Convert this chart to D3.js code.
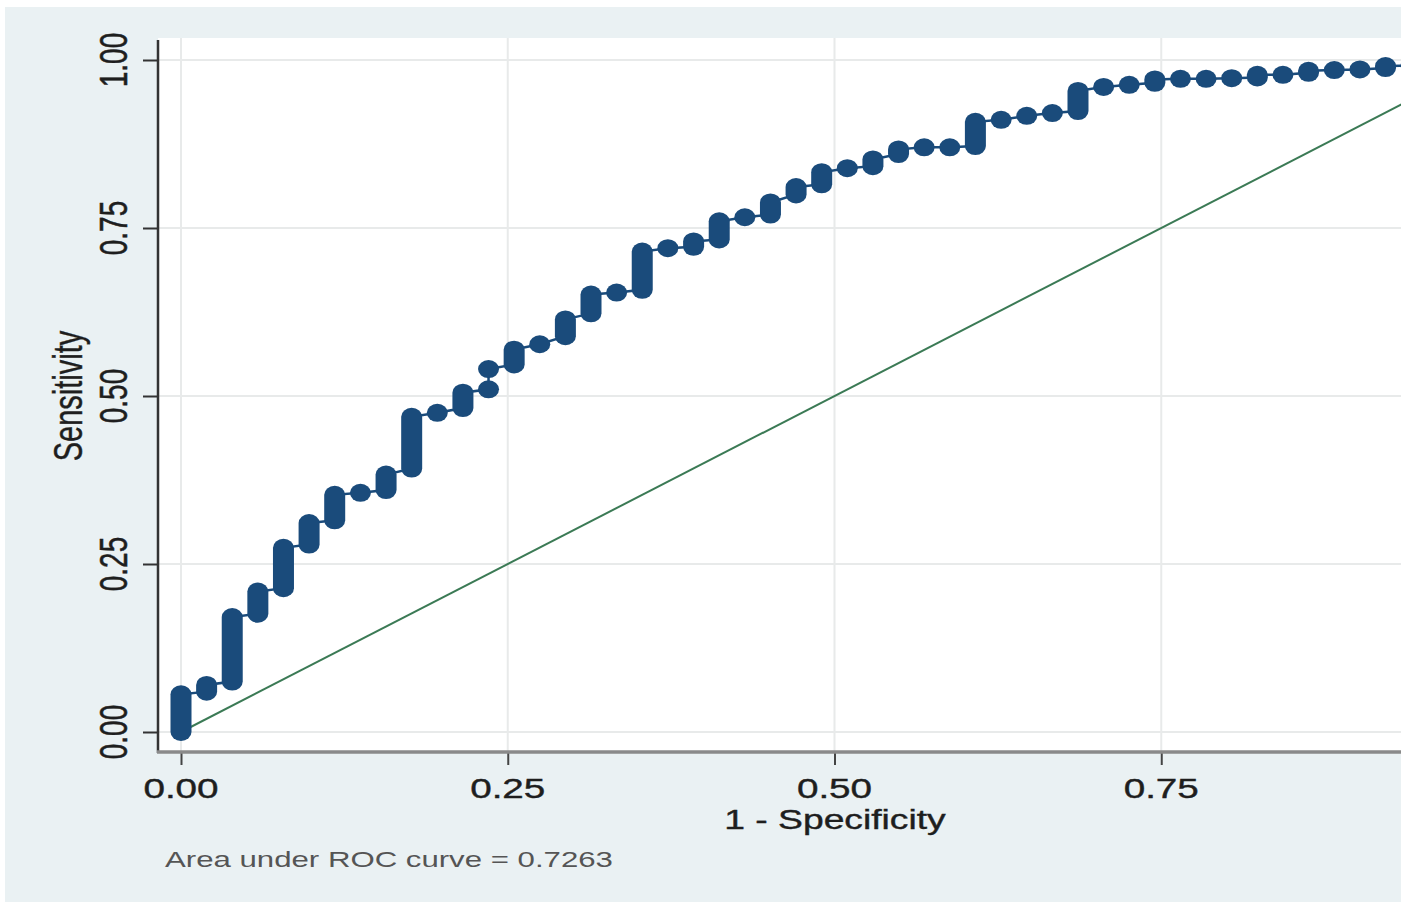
<!DOCTYPE html>
<html>
<head>
<meta charset="utf-8">
<script src="https://cdn.jsdelivr.net/npm/d3@7"></script>
<style>
  html, body { margin: 0; padding: 0; background: #ffffff; }
  svg { display: block; }
  text { font-family: "Liberation Sans", Arial, sans-serif; }
</style>
</head>
<body>
<svg id="chart" width="1401" height="902"></svg>
<script>
// --- ROC points (1 - specificity, sensitivity range at that x) ---
var fpr = [0.0000, 0.0196, 0.0392, 0.0588, 0.0784, 0.0980, 0.1176, 0.1373, 0.1569, 0.1765,
           0.1961, 0.2157, 0.2353, 0.2353, 0.2549, 0.2745, 0.2941, 0.3137, 0.3333, 0.3529,
           0.3725, 0.3922, 0.4118, 0.4314, 0.4510, 0.4706, 0.4902, 0.5098, 0.5294, 0.5490,
           0.5686, 0.5882, 0.6078, 0.6275, 0.6471, 0.6667, 0.6863, 0.7059, 0.7255, 0.7451,
           0.7647, 0.7843, 0.8039, 0.8235, 0.8431, 0.8627, 0.8824, 0.9020, 0.9216, 0.9412,
           0.9608, 0.9804, 1.0000];
var sensLo = [0.000, 0.060, 0.075, 0.176, 0.214, 0.279, 0.315, 0.356, 0.360, 0.392,
              0.475, 0.482, 0.510, 0.540, 0.547, 0.577, 0.589, 0.623, 0.654, 0.658,
              0.720, 0.722, 0.733, 0.766, 0.770, 0.800, 0.815, 0.839, 0.842, 0.860,
              0.870, 0.870, 0.872, 0.911, 0.917, 0.921, 0.924, 0.960, 0.963, 0.966,
              0.972, 0.972, 0.973, 0.974, 0.978, 0.981, 0.985, 0.986, 0.988, 0.992,
              0.995, 0.998, 1.000];
var sensHi = [0.056, 0.070, 0.171, 0.209, 0.274, 0.311, 0.353, 0.356, 0.383, 0.469,
              0.475, 0.505, 0.510, 0.540, 0.569, 0.577, 0.614, 0.651, 0.654, 0.715,
              0.720, 0.730, 0.760, 0.766, 0.788, 0.811, 0.833, 0.839, 0.852, 0.867,
              0.870, 0.870, 0.908, 0.911, 0.917, 0.921, 0.954, 0.960, 0.963, 0.971,
              0.972, 0.972, 0.973, 0.978, 0.978, 0.984, 0.985, 0.986, 0.991, 0.992,
              0.995, 0.998, 1.000];

var xTicks = [0, 0.25, 0.5, 0.75];
var yTicks = [0, 0.25, 0.5, 0.75, 1];
var xTitle = '1 - Specificity';
var yTitle = 'Sensitivity';
var note   = 'Area under ROC curve = 0.7263';

// --- look ---
var BG        = '#eaf1f3';
var NAVY      = '#1a4b7b';
var GREEN     = '#3b7a55';
var STRETCH   = 1.38;   // the picture is wider than tall, text is stretched too
var RX = 10.5, RY = 9;

var svg = d3.select('#chart');

var x = d3.scaleLinear().domain([0, 1]).range([181, 1488]);
var y = d3.scaleLinear().domain([0, 1]).range([732, 60]);

// backgrounds
svg.append('rect').attr('width', 1401).attr('height', 902).attr('fill', '#ffffff');
svg.append('rect').attr('x', 5).attr('y', 7).attr('width', 1396).attr('height', 895).attr('fill', BG);
svg.append('rect').attr('x', 158).attr('y', 38).attr('width', 1243).attr('height', 714).attr('fill', '#ffffff');

// grid
var grid = svg.append('g').attr('stroke', '#e8eaea').attr('stroke-width', 2);
grid.selectAll('line.h').data(yTicks).enter().append('line')
	.attr('x1', 158).attr('x2', 1401)
	.attr('y1', function (d) { return y(d); }).attr('y2', function (d) { return y(d); });
grid.selectAll('line.v').data(xTicks).enter().append('line')
	.attr('y1', 38).attr('y2', 752)
	.attr('x1', function (d) { return x(d); }).attr('x2', function (d) { return x(d); });

// axes
var yAxis = d3.axisLeft(y).tickValues(yTicks).tickSize(15).tickFormat(d3.format('.2f'));
var gy = svg.append('g').attr('transform', 'translate(158,0)').call(yAxis);
gy.select('.domain').remove();
gy.selectAll('.tick line').attr('stroke', '#333').attr('stroke-width', 2);
gy.selectAll('.tick text').remove();
svg.append('line').attr('x1', 158).attr('x2', 158).attr('y1', 40).attr('y2', 753)
	.attr('stroke', '#333').attr('stroke-width', 2.5);

var xAxis = d3.axisBottom(x).tickValues(xTicks).tickSize(13).tickFormat(d3.format('.2f'));
var gx = svg.append('g').attr('transform', 'translate(0,752)').call(xAxis);
gx.select('.domain').remove();
gx.selectAll('.tick line').attr('stroke', '#444').attr('stroke-width', 2);
gx.selectAll('.tick text').remove();
svg.append('line').attr('x1', 157).attr('x2', 1401).attr('y1', 752).attr('y2', 752)
	.attr('stroke', '#8a8a8a').attr('stroke-width', 3.5);

// tick labels, stretched like the picture
svg.append('g').selectAll('text').data(yTicks).enter().append('text')
	.attr('transform', function (d) { return 'translate(127,' + y(d) + ') scale(' + STRETCH + ',1) rotate(-90)'; })
	.attr('text-anchor', 'middle')
	.attr('font-size', 28).attr('fill', '#1e1e1e')
	.attr('stroke', '#1e1e1e').attr('stroke-width', 0.4)
	.text(d3.format('.2f'));

svg.append('g').selectAll('text').data(xTicks).enter().append('text')
	.attr('transform', function (d) { return 'translate(' + x(d) + ',798) scale(' + STRETCH + ',1)'; })
	.attr('text-anchor', 'middle')
	.attr('font-size', 28).attr('fill', '#1e1e1e')
	.attr('stroke', '#1e1e1e').attr('stroke-width', 0.4)
	.text(d3.format('.2f'));

svg.append('text')
	.attr('transform', 'translate(835,829) scale(' + STRETCH + ',1)')
	.attr('text-anchor', 'middle').attr('font-size', 27).attr('fill', '#1e1e1e')
	.attr('stroke', '#1e1e1e').attr('stroke-width', 0.4)
	.text(xTitle);

svg.append('text')
	.attr('transform', 'translate(82,396) scale(' + STRETCH + ',1) rotate(-90)')
	.attr('text-anchor', 'middle').attr('font-size', 29).attr('fill', '#1e1e1e')
	.attr('stroke', '#1e1e1e').attr('stroke-width', 0.3)
	.text(yTitle);

svg.append('text')
	.attr('transform', 'translate(165,867) scale(' + STRETCH + ',1)')
	.attr('font-size', 22.6).attr('fill', '#555')
	.text(note);

// plot content, clipped to the plot region
svg.append('clipPath').attr('id', 'plotclip').append('rect')
	.attr('x', 158).attr('y', 30).attr('width', 1243).attr('height', 722);
var plot = svg.append('g').attr('clip-path', 'url(#plotclip)');

// reference diagonal
plot.append('line')
	.attr('x1', x(0)).attr('y1', y(0)).attr('x2', x(1)).attr('y2', y(1))
	.attr('stroke', GREEN).attr('stroke-width', 2);

// ROC path through every point
var pts = [];
fpr.forEach(function (f, i) {
	pts.push([f, sensLo[i]]);
	pts.push([f, sensHi[i]]);
});
plot.append('path')
	.attr('d', d3.line().x(function (d) { return x(d[0]); }).y(function (d) { return y(d[1]); })(pts))
	.attr('fill', 'none').attr('stroke', NAVY).attr('stroke-width', 2.5);

// markers: runs of tied points at one x merge into a rounded bar
var idx = d3.range(fpr.length);
var marks = plot.append('g').attr('fill', NAVY);
marks.selectAll('rect').data(idx).enter().append('rect')
	.attr('x', function (i) { return x(fpr[i]) - RX; })
	.attr('y', function (i) { return y(sensHi[i]) - RY; })
	.attr('width', RX * 2)
	.attr('height', function (i) { return y(sensLo[i]) - y(sensHi[i]) + RY * 2; })
	.attr('rx', RX).attr('ry', RY);
</script>
</body>
</html>
